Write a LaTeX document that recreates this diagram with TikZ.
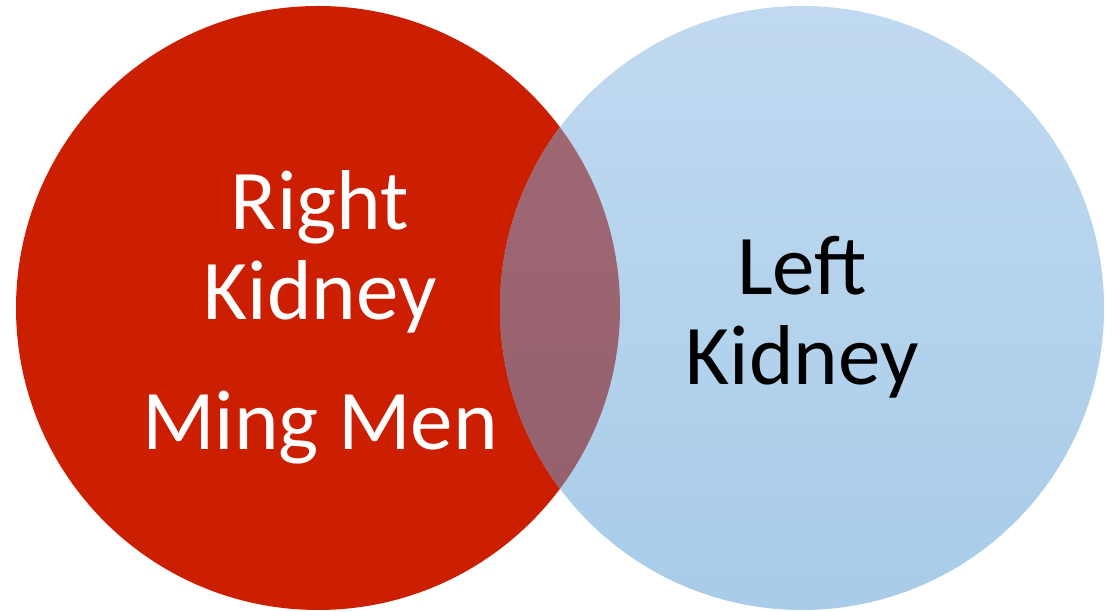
\documentclass[tikz,border=0pt]{standalone}
\usepackage{fontspec}
\setmainfont{Carlito}
\usetikzlibrary{positioning}
\definecolor{kidneyred}{RGB}{204,30,0}
\definecolor{blueTop}{RGB}{192,217,240}
\definecolor{blueBot}{RGB}{168,204,233}
\definecolor{mixTop}{RGB}{161,105,116}
\definecolor{mixBot}{RGB}{146,95,109}

\begin{document}
\begin{tikzpicture}[x=1pt, y=1pt,
  venntext/.style={font=\fontsize{85}{90}\selectfont, align=center, inner sep=0pt, anchor=base}]
  \useasboundingbox (0,0) rectangle (1119,612);

  % circles
  \coordinate (rk) at (318,304);
  \coordinate (lk) at (802,304);
  \fill[kidneyred] (rk) circle (302);
  \shade[top color=blueTop, bottom color=blueBot] (lk) circle (302);
  \begin{scope}
    \clip (rk) circle (302);
    \shade[top color=mixTop, bottom color=mixBot] (lk) circle (302);
  \end{scope}

  % labels
  \node[venntext, text=white] (right) at (320,292) {Right\\Kidney};
  \node[venntext, text=white] (ming) at (320,162) {Ming Men};
  \node[venntext, text=black] (left) at (802,227) {Left\\Kidney};
\end{tikzpicture}
\end{document}
